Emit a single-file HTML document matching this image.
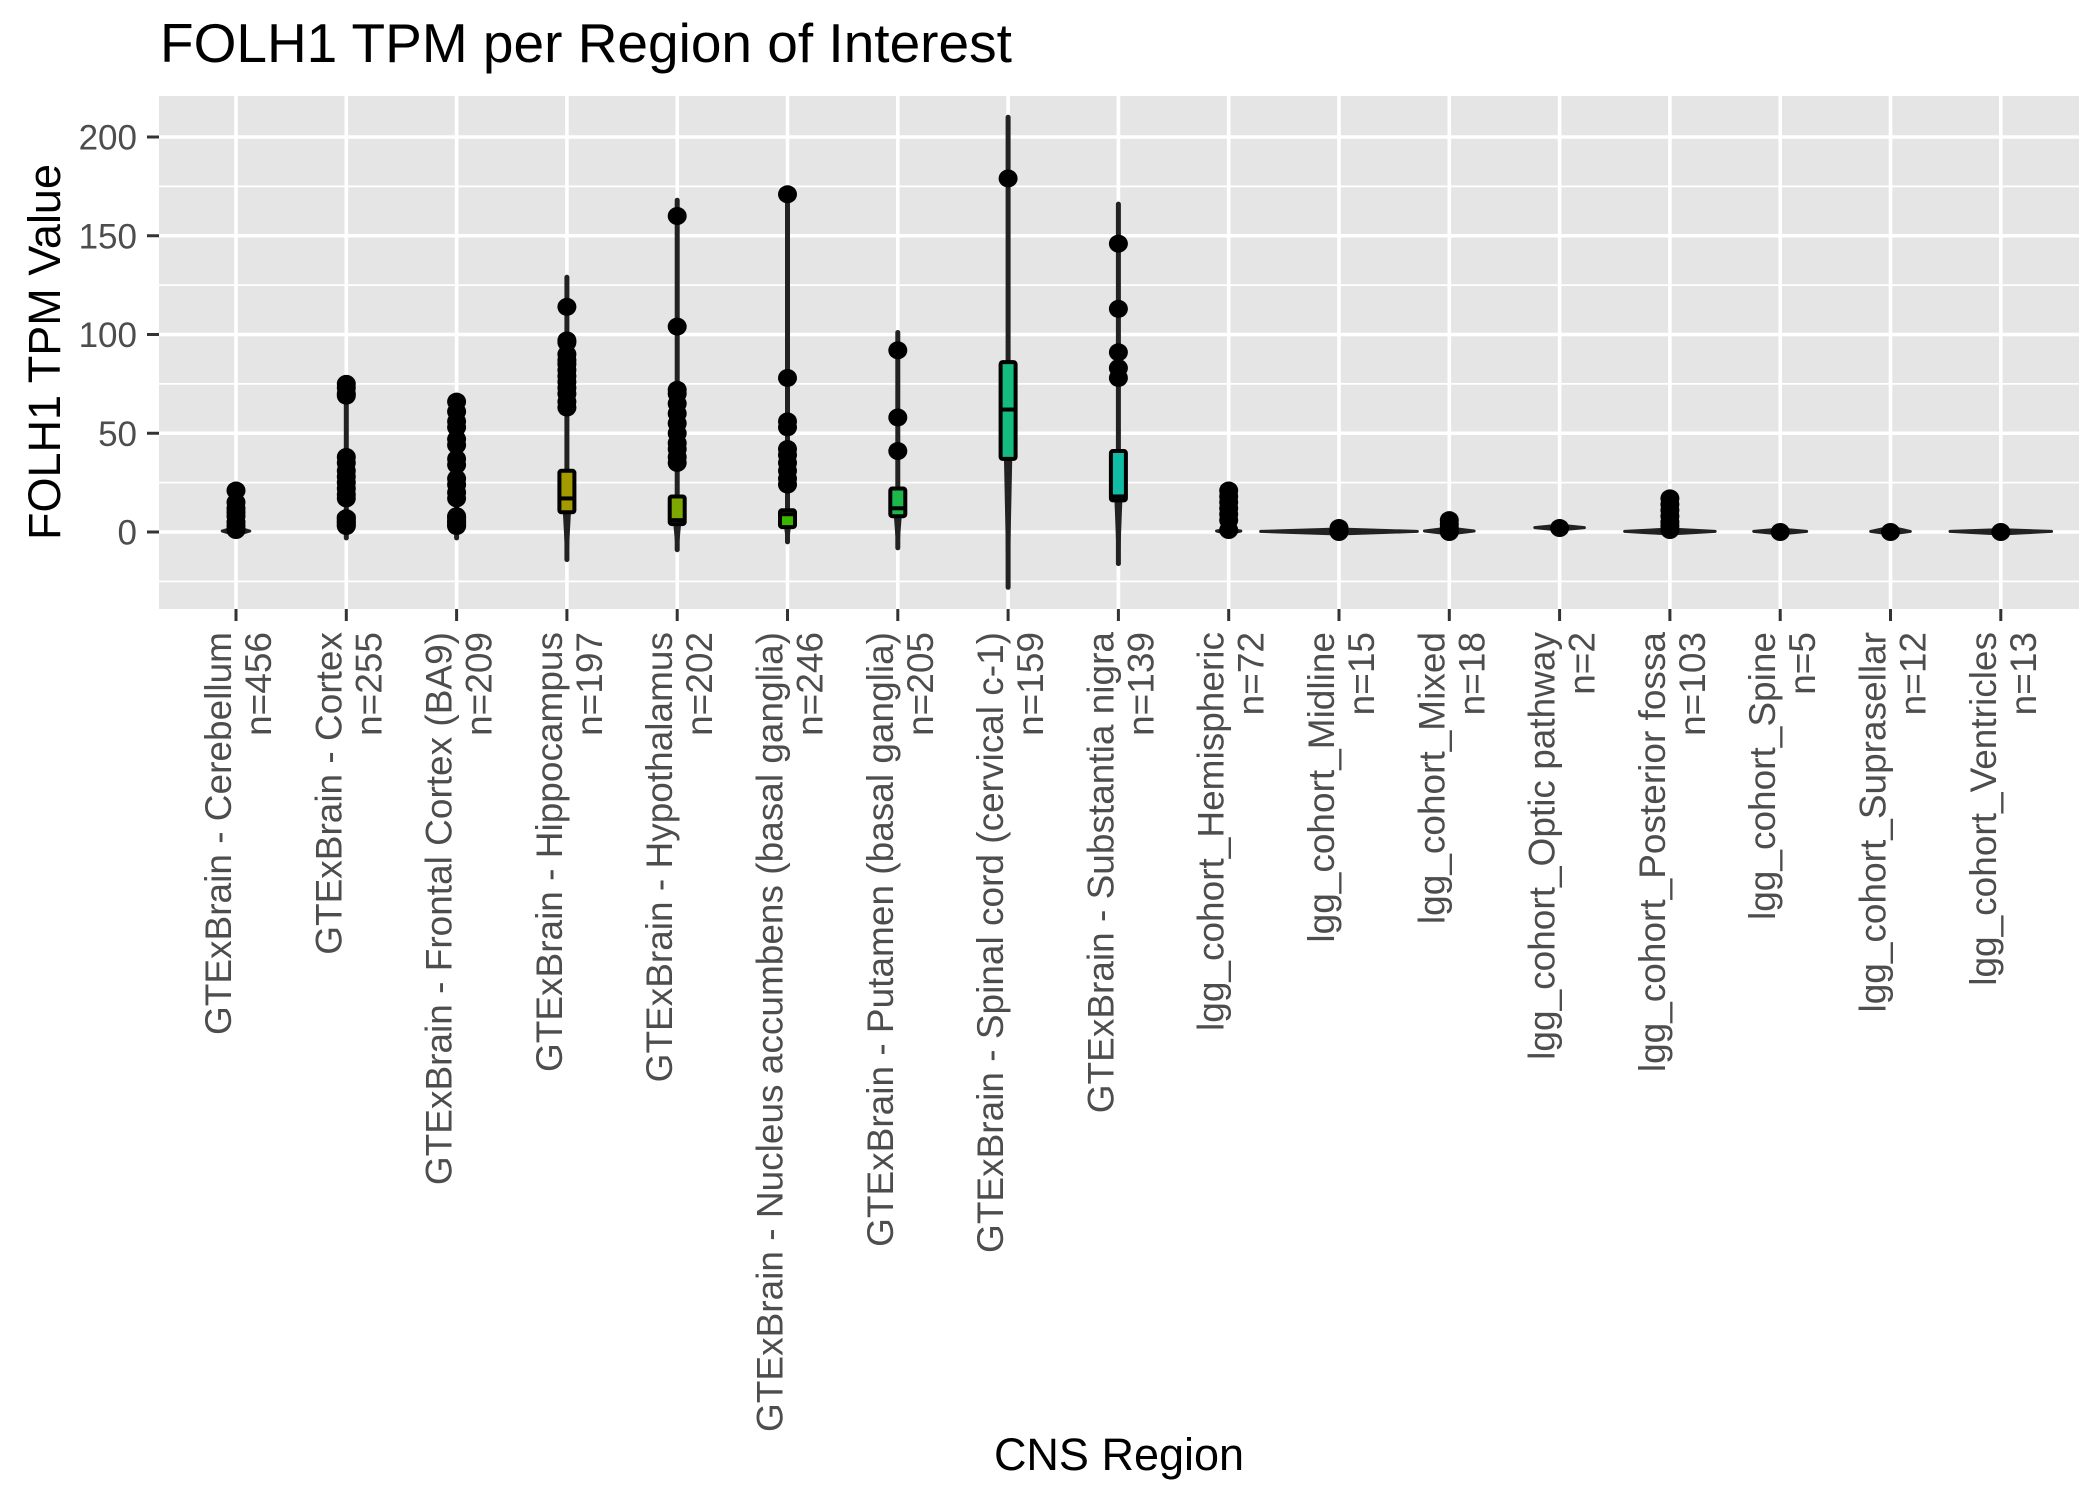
<!DOCTYPE html>
<html><head><meta charset="utf-8"><style>
html,body{margin:0;padding:0;background:#fff;}
svg{display:block;font-family:"Liberation Sans",Arial,sans-serif;}
</style></head><body>
<svg id="chart" width="2099" height="1499" viewBox="0 0 2099 1499" xmlns="http://www.w3.org/2000/svg">
<rect width="2099" height="1499" fill="#fff"/>
<text x="160" y="62" font-size="55" fill="#000">FOLH1 TPM per Region of Interest</text>
<rect x="159" y="96" width="1920" height="513" fill="#e5e5e5"/>
<g id="grid"></g>
<g id="marks"></g>
<g id="axes"></g>
<text x="1119" y="1470" font-size="45" text-anchor="middle" fill="#000">CNS Region</text>
<text transform="translate(60,352) rotate(-90)" font-size="45" text-anchor="middle" fill="#000">FOLH1 TPM Value</text>
</svg>
<script>
const categories = ["GTExBrain - Cerebellum","GTExBrain - Cortex","GTExBrain - Frontal Cortex (BA9)","GTExBrain - Hippocampus","GTExBrain - Hypothalamus","GTExBrain - Nucleus accumbens (basal ganglia)","GTExBrain - Putamen (basal ganglia)","GTExBrain - Spinal cord (cervical c-1)","GTExBrain - Substantia nigra","lgg_cohort_Hemispheric","lgg_cohort_Midline","lgg_cohort_Mixed","lgg_cohort_Optic pathway","lgg_cohort_Posterior fossa","lgg_cohort_Spine","lgg_cohort_Suprasellar","lgg_cohort_Ventricles"];
const counts = [456,255,209,197,202,246,205,159,139,72,15,18,2,103,5,12,13];
const violinMin = [-1.5,-3,-3,-14,-9,-5,-8,-28,-16,-1,-1,-1,1,-1,-1,-1,-1];
const violinMax = [21,75,66,129,168,173,101,210,166,21,1.5,2,3.5,1.5,1.5,2.5,1.2];
const violinMode = [0.5,4,4,12,6,6,10,40,20,0.5,0.3,0.5,2.2,0.3,0.3,0.3,0.3];
const violinDensity = [0.25,0.05,0.05,0.05,0.05,0.05,0.05,0.05,0.05,0.22,1.42,0.45,0.45,0.82,0.48,0.36,0.92];
const bodyMax = [2.5,8,8,30,15,10,20,80,40,1.5,1.5,2,3.5,1.5,1.5,2.5,1.2];
const boxQ1 = [0.5,2,2,10,4,2.5,8,37,16,0.3,0.2,0.2,1.8,0.2,0.2,0.2,0.2];
const boxMed = [1,7,7,17,6,9,12,62,18,0.6,0.5,0.5,2,0.5,0.4,0.5,0.4];
const boxQ3 = [2,9,9,31,18,11,22,86,41,1.2,0.8,0.9,2.4,0.9,0.6,0.8,0.6];
const boxColors = ["#f8766d","#b07a2a","#b07a2a","#a39a00","#7ca800","#39b600","#1cb84a","#14bc80","#10bca4","#00b4ef","#00b0f6","#35a2ff","#9590ff","#c77cff","#e76bf3","#fa62db","#ff62bc"];
const outliers = [
 [21,15,12,10,8,5,3,1],
 [75,73,70,69,38,35,31,28,25,22,19,17,7,5,3],
 [66,61,56,53,47,44,37,34,27,24,20,17,8,5,3],
 [114,97,96,90,87,85,82,79,76,73,70,66,63],
 [160,104,72,70,65,60,55,50,45,42,38,35],
 [171,78,56,53,42,39,35,31,27,24],
 [92,58,41],
 [179],
 [146,113,91,83,78],
 [21,18,15,12,9,6,1],
 [0,2],
 [6,4,2,0],
 [2],
 [17,14,11,8,5,3,1],
 [0],
 [0],
 [0]
];
const yTicks = [0,50,100,150,200];
const yMinor = [-25,25,75,125,175];

const NS="http://www.w3.org/2000/svg";
const PL=159, PR=2079, PT=96, PB=609;
const Y0=532, PXU=1.975;
function y(v){return Y0 - v*PXU;}
const X0=236, STEP=110.3;
function x(i){return X0 + i*STEP;}
function mk(tag, attrs, parent){const e=document.createElementNS(NS,tag);for(const k in attrs)e.setAttribute(k,attrs[k]);parent.appendChild(e);return e;}
const grid=document.getElementById('grid'), marks=document.getElementById('marks'), axes=document.getElementById('axes');

yMinor.forEach(v=>{
 const l=mk('line',{x1:PL,x2:PR,y1:y(v),y2:y(v),stroke:'#fff','stroke-width':1.8},grid);
 
 
});
yTicks.forEach(v=>{
 const l=mk('line',{x1:PL,x2:PR,y1:y(v),y2:y(v),stroke:'#fff','stroke-width':3.6},grid);
 
 
 const t=mk('line',{x1:PL-12,x2:PL,y1:y(v),y2:y(v),stroke:'#333','stroke-width':3},axes);
 
 
 const tx=mk('text',{x:PL-22,y:y(v)+12.5,'font-size':35,'text-anchor':'end',fill:'#4d4d4d'},axes);
 tx.textContent=v;
 
 
});
categories.forEach((c,i)=>{
 const cx=x(i);
 const g=mk('line',{x1:cx,x2:cx,y1:PT,y2:PB,stroke:'#fff','stroke-width':3.6},grid);
 
 
 const t=mk('line',{x1:cx,x2:cx,y1:PB,y2:PB+12,stroke:'#333','stroke-width':3},axes);
 
 
 const tx=mk('text',{transform:`translate(${cx},632) rotate(-90)`,'font-size':37,'text-anchor':'end',fill:'#4d4d4d'},axes);
 
 
 const s1=mk('tspan',{x:0,y:-5},tx); s1.textContent=c;
 const s2=mk('tspan',{x:0,y:35},tx); s2.textContent='n='+counts[i];

 const grp=mk('g',{},marks);
 
 
 const w=violinDensity[i]*STEP/2;
 const yMn=y(violinMin[i]), yMx=y(violinMax[i]), yMd=y(violinMode[i]), yB=y(bodyMax[i]);
 const vl=mk('line',{x1:cx,x2:cx,y1:yMn,y2:yMx,stroke:'#222','stroke-width':5,'stroke-linecap':'round'},grp);
 
 
 const vp=mk('path',{d:`M${cx},${yMn} L${cx+w},${yMd} L${cx},${yB} L${cx-w},${yMd} Z`,fill:'#222',stroke:'#222','stroke-width':3,'stroke-linejoin':'round'},grp);
 
 
 const bw=15, b1=y(boxQ3[i]), b2=y(boxQ1[i]);
 const bx=mk('rect',{x:cx-bw/2,y:b1,width:bw,height:Math.max(1,b2-b1),fill:boxColors[i],stroke:'#000','stroke-width':4,rx:2},grp);
 
 
 const md=mk('line',{x1:cx-bw/2,x2:cx+bw/2,y1:y(boxMed[i]),y2:y(boxMed[i]),stroke:'#000','stroke-width':4},grp);
 
 
 outliers[i].forEach(v=>{
  const p=mk('ellipse',{cx:cx,cy:y(v),rx:9.5,ry:9,fill:'#000'},grp);
  
  
 });
});
</script>
</body></html>
